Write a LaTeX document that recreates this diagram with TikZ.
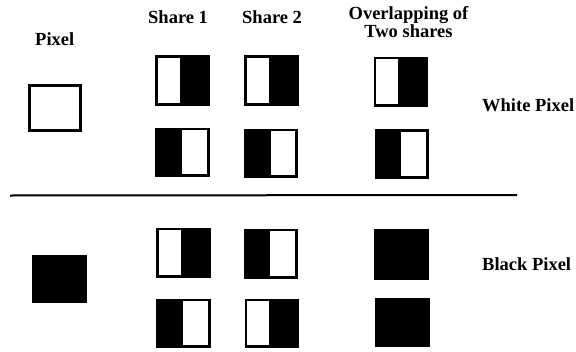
\documentclass[tikz,border=0pt]{standalone}
\usepackage{fontspec}
\setmainfont{Liberation Serif}
\newcommand\WLbox[5]{% white left half, black right
  \fill[black] (#1,-#2) rectangle (#3,-#4);
  \fill[white] ({#1+2.6},{-#2-2.6}) rectangle (#5,{-#4+2.6});}
\newcommand\BLbox[5]{% black left half, white right
  \fill[black] (#1,-#2) rectangle (#3,-#4);
  \fill[white] (#5,{-#2-2.6}) rectangle ({#3-2.6},{-#4+2.6});}
\begin{document}
\begin{tikzpicture}[x=1pt,y=1pt,
  lbl/.style={inner sep=0pt,anchor=base west,font=\fontsize{18.5}{16}\selectfont\bfseries}]
\useasboundingbox (0,0) rectangle (576,-351);
% headings
\node[lbl] (tpixel) at (35,-45) {Pixel};
\node[lbl] (tshare1) at (148,-23) {Share 1};
\node[lbl] (tshare2) at (242,-23) {Share 2};
\node[lbl,anchor=north,align=center] (tover) at (408.5,-6.2) {Overlapping of\\Two shares};
\node[lbl] (twhite) at (482,-111) {White Pixel};
\node[lbl] (tblack) at (482,-270) {Black Pixel};
% pixels
\draw[line width=3pt] (29.5,-85.5) rectangle (80.5,-130.5);
\fill[black] (32,-254.5) rectangle (87,-303);
% white pixel shares
\WLbox{155}{55}{210}{105.5}{179.5}
\WLbox{244}{55}{298.5}{105.5}{269}
\WLbox{373.5}{56.5}{428}{106.5}{398}
\BLbox{155}{127.5}{210}{177}{181.5}
\BLbox{244}{128.5}{298}{178}{270.5}
\BLbox{374.5}{129}{429}{179}{401}
% separator
\draw[line width=2pt] (10,-195.5) -- (517,-195);
% black pixel shares
\WLbox{156}{227.5}{210.5}{277.5}{181}
\BLbox{243.5}{228.5}{297.5}{278.5}{270}
\fill[black] (374,-229) rectangle (429,-279.5);
\BLbox{156}{298.5}{210.5}{348}{183}
\WLbox{244.5}{298.5}{298.5}{348}{269}
\fill[black] (375,-297.5) rectangle (430,-347);
\end{tikzpicture}
\end{document}
